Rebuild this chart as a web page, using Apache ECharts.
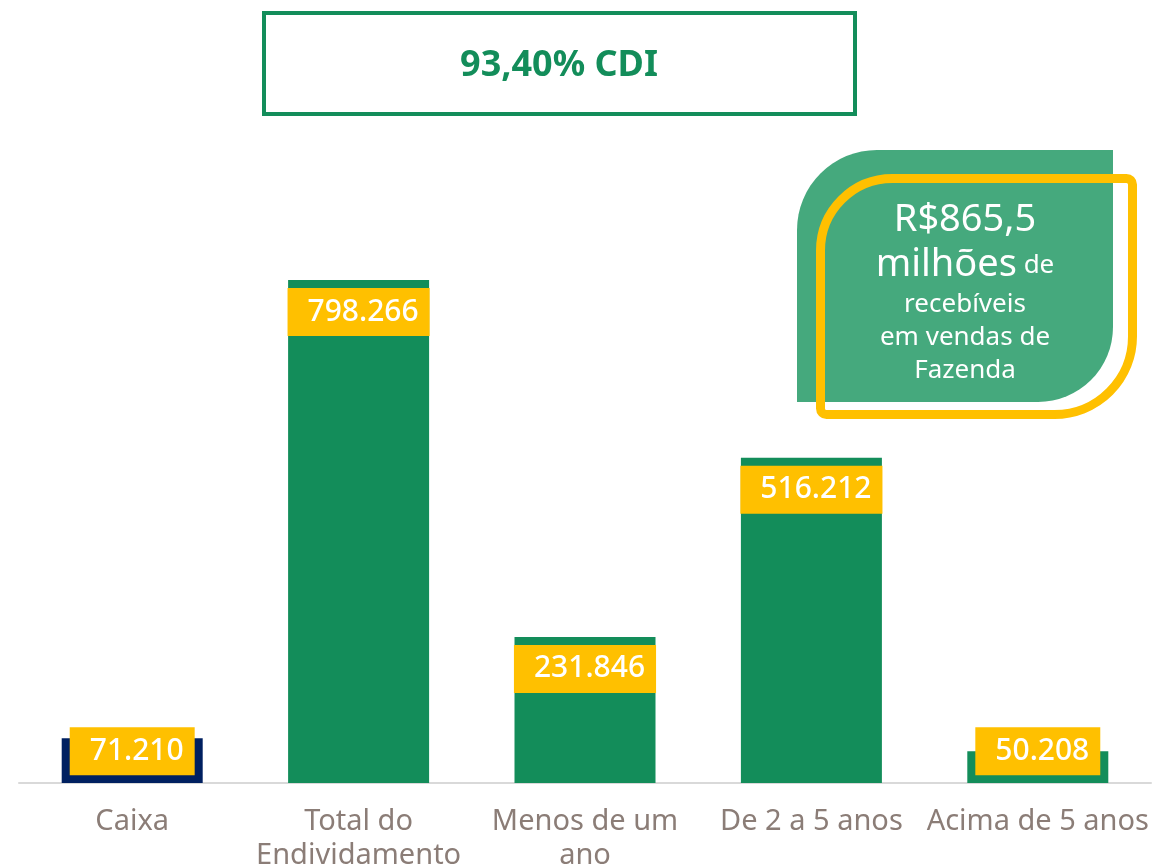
<!DOCTYPE html>
<html>
<head>
<meta charset="utf-8">
<script src="https://cdn.jsdelivr.net/npm/echarts@6/dist/echarts.min.js"></script>
<style>
  html, body { margin: 0; padding: 0; background: #fff; }
  #chart { width: 1152px; height: 868px; }
</style>
</head>
<body>
<div id="chart"></div>
<script>
// dados do gráfico (R$ mil)
var categories = ['Caixa', 'Total do\nEndividamento', 'Menos de um\nano', 'De 2 a 5 anos', 'Acima de 5 anos'];
var values = [71210, 798266, 231846, 516212, 50208];
var titleText = '93,40% CDI';
var calloutLines = ['R$865,5', 'milhões', 'de', 'recebíveis', 'em vendas de', 'Fazenda'];

var green = '#138D5A';
var navy = '#002060';
var yellow = '#FFC000';
var font = '"Noto Sans", sans-serif';

function fmt (v) {
  return String(v).replace(/\B(?=(\d{3})+(?!\d))/g, '.');
}

var chart = echarts.init(document.getElementById('chart'));

var data = values.map(function (v, i) {
  var item = { value: v };
  if (i === 0) {
    item.itemStyle = { color: navy };
  }
  // rótulos das barras pequenas ficam acima do topo
  if (v < 100000) {
    item.label = { position: 'top', distance: v > 60000 ? -37 : -24 };
  }
  return item;
});

chart.setOption({
  animation: false,
  grid: {
    left: 19,
    right: 1,
    top: 153,
    bottom: 85,
    outerBoundsMode: 'none'
  },
  xAxis: {
    type: 'category',
    data: categories,
    axisTick: { show: false },
    axisLine: {
      lineStyle: { color: '#D9D9D9', width: 2 }
    },
    axisLabel: {
      interval: 0,
      color: '#8B7D77',
      fontSize: 29,
      lineHeight: 34,
      margin: 22,
      fontFamily: font
    }
  },
  yAxis: {
    type: 'value',
    show: false,
    min: 0,
    max: 1000000,
    splitLine: { show: false }
  },
  series: [
    {
      type: 'bar',
      barWidth: 141,
      itemStyle: { color: green },
      label: {
        show: true,
        position: 'insideTop',
        distance: 8,
        color: '#fff',
        fontSize: 30,
        fontWeight: 500,
        lineHeight: 36,
        fontFamily: font,
        backgroundColor: yellow,
        padding: [6, 11, 6, 20],
        formatter: function (p) {
          return fmt(p.value);
        }
      },
      data: data
    }
  ],
  graphic: [
    {
      type: 'rect',
      shape: { x: 264, y: 13, width: 591, height: 101 },
      style: { fill: '#fff', stroke: green, lineWidth: 4 }
    },
    {
      type: 'text',
      x: 559,
      y: 66,
      style: {
        text: titleText,
        fill: green,
        font: 'bold 36px "Noto Sans", sans-serif',
        textAlign: 'center',
        textVerticalAlign: 'middle'
      }
    },
    {
      type: 'rect',
      z: 10,
      shape: { x: 797, y: 150, width: 316, height: 252, r: [80, 0, 75, 0] },
      style: { fill: '#45A97D' }
    },
    {
      type: 'rect',
      z: 11,
      shape: { x: 820.5, y: 178.5, width: 312, height: 236, r: [72, 6, 78, 6] },
      style: { fill: 'none', stroke: yellow, lineWidth: 9 }
    },
    {
      type: 'text',
      z: 12,
      x: 965,
      y: 198,
      style: {
        text: '{a|' + calloutLines[0] + '}\n{a|' + calloutLines[1] + '}  {b|' + calloutLines[2] + '}\n{b|' +
          calloutLines[3] + '}\n{b|' + calloutLines[4] + '}\n{b|' + calloutLines[5] + '}',
        fill: '#fff',
        textAlign: 'center',
        textVerticalAlign: 'top',
        rich: {
          a: { fontSize: 38, lineHeight: 45, fontFamily: font, fill: '#fff' },
          b: { fontSize: 26, lineHeight: 33, fontFamily: font, fill: '#fff' }
        }
      }
    }
  ]
});
</script>
</body>
</html>
